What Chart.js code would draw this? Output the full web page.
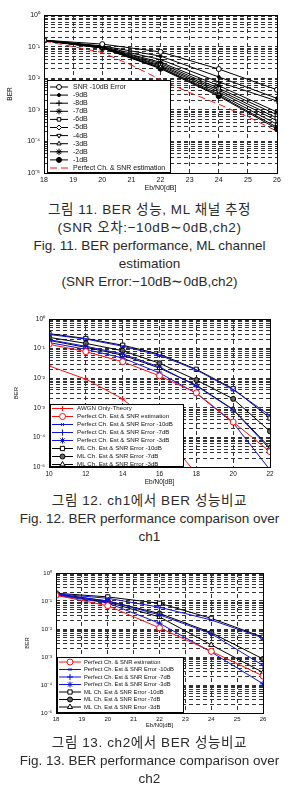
<!DOCTYPE html>
<html>
<head>
<meta charset="utf-8">
<script src="https://cdn.jsdelivr.net/npm/chart.js@4.4.0/dist/chart.umd.min.js"></script>
<style>
  body { margin: 0; background: #fff; width: 299px; height: 809px; position: relative; overflow: hidden; }
  .plot { position: absolute; left: 0; width: 299px; }
  .cap { position: absolute; left: 0; width: 299px; text-align: center; color: #2a2a2a;
         font-family: "Liberation Sans", "Noto Sans CJK KR", sans-serif; font-size: 13.5px; line-height: 18px; }
  .ko { letter-spacing: 0.6px; }
</style>
</head>
<body>
<div class="plot" style="top:0;height:195px"><canvas id="fig11"></canvas></div>
<div class="cap" style="top:201px">
  <span class="ko">그림 11. BER 성능, ML 채널 추정</span><br><span class="ko">(SNR 오차:−10dB∼0dB,ch2)</span><br>Fig. 11. BER performance, ML channel<br>estimation<br>(SNR Error:−10dB∼0dB,ch2)
</div>
<div class="plot" style="top:300px;height:190px"><canvas id="fig12"></canvas></div>
<div class="cap" style="top:492px">
  <span class="ko">그림 12. ch1에서 BER 성능비교</span><br>Fig. 12. BER performance comparison over<br>ch1
</div>
<div class="plot" style="top:560px;height:175px"><canvas id="fig13"></canvas></div>
<div class="cap" style="top:734px">
  <span class="ko">그림 13. ch2에서 BER 성능비교</span><br>Fig. 13. BER performance comparison over<br>ch2
</div>
<script>
  const FONT = '"Liberation Sans", Arial, sans-serif';
  const RED = '#ff1010', BLUE = '#1010e0', BLACK = '#000';

  // ---- Fig. 11 data: BER vs Eb/N0, SNR error -10dB .. -1dB (ch2)
  const ebn0Fig11 = [18, 20, 22, 24, 26];
  const ebn0Fig11Fine = [18, 19, 20, 21, 22, 23, 24, 25, 26];
  const snrErrNames = ['SNR -10dB Error', '-9dB', '-8dB', '-7dB', '-6dB', '-5dB', '-4dB', '-3dB', '-2dB', '-1dB'];
  const berErr10 = [0.16, 0.12, 0.068, 0.0195, 0.0043];
  const berErr9 = [0.16, 0.105, 0.05, 0.011, 0.0023];
  const berErr8 = [0.16, 0.1, 0.039, 0.0076, 0.0019];
  const berErr7 = [0.155, 0.097, 0.032, 0.0058, 0.00085];
  const berErr6 = [0.155, 0.095, 0.029, 0.0048, 0.0007];
  const berErr5 = [0.155, 0.093, 0.026, 0.0042, 0.00055];
  const berErr4 = [0.155, 0.092, 0.024, 0.0037, 0.00045];
  const berErr3 = [0.155, 0.091, 0.022, 0.0032, 0.00035];
  const berErr2 = [0.155, 0.09, 0.021, 0.0029, 0.00028];
  const berErr1 = [0.155, 0.09, 0.02, 0.0027, 0.00025];
  const berPerfect11 = [0.15, 0.1, 0.065, 0.026, 0.009, 0.0035, 0.0015, 0.0006, 0.00021];

  // ---- Fig. 12 data: ch1
  const ebn0Fig12 = [10, 12, 14, 16, 18, 20, 22];
  const ebn0Awgn = [10, 12, 14, 16, 18];
  const berAwgn12 = [0.026, 0.0093, 0.002, 0.00018, 0.000006];
  const berPerfect12 = [0.14, 0.079, 0.036, 0.012, 0.0032, 0.00033, 0.000033];
  const berPerf10dB12 = [0.30, 0.21, 0.12, 0.06, 0.019, 0.0041, 0.00055];
  const berPerf7dB12 = [0.2, 0.12, 0.066, 0.024, 0.0055, 0.00085, 0.00004];
  const berPerf3dB12 = [0.16, 0.095, 0.048, 0.015, 0.0031, 0.00031, 0.000008];
  const berMl10dB12 = [0.32, 0.22, 0.13, 0.065, 0.02, 0.0044, 0.00045];
  const berMl7dB12 = [0.24, 0.15, 0.085, 0.032, 0.0087, 0.002, 0.00016];
  const berMl3dB12 = [0.19, 0.11, 0.06, 0.022, 0.0058, 0.00088, 0.000045];

  // ---- Fig. 13 data: ch2
  const ebn0Fig13 = [18, 20, 22, 24, 26];
  const berPerfect13 = [0.16, 0.068, 0.011, 0.0016, 0.00021];
  const berPerf10dB13 = [0.18, 0.125, 0.06, 0.021, 0.0048];
  const berPerf7dB13 = [0.17, 0.1, 0.032, 0.0068, 0.0005];
  const berPerf3dB13 = [0.16, 0.085, 0.016, 0.0015, 0.00011];
  const berMl10dB13 = [0.19, 0.14, 0.083, 0.024, 0.0051];
  const berMl7dB13 = [0.18, 0.1, 0.036, 0.0074, 0.00085];
  const berMl3dB13 = [0.17, 0.09, 0.027, 0.0027, 0.00028];

  // build a line dataset from x/y arrays
  function series(label, xs, ys, color, style, extra) {
    return Object.assign({
      label: label,
      data: xs.map((x, i) => ({ x: x, y: ys[i] })),
      borderColor: color,
      backgroundColor: '#fff',
      pointBorderColor: color,
      pointBackgroundColor: '#fff',
      pointStyle: style,
      pointRadius: 2.5,
      pointBorderWidth: 1,
      borderWidth: 1,
      tension: 0
    }, extra || {});
  }

  function powLabel(p) {
    const sup = { '-': '⁻', '0': '⁰', '1': '¹', '2': '²', '3': '³', '4': '⁴', '5': '⁵' };
    return '10' + String(p).split('').map(c => sup[c]).join('');
  }

  // black box around the plot area
  const frame = {
    id: 'frame',
    afterDatasetsDraw(chart) {
      const a = chart.chartArea, ctx = chart.ctx;
      ctx.save();
      ctx.strokeStyle = '#000';
      ctx.lineWidth = 1;
      ctx.strokeRect(Math.round(a.left) + 0.5, Math.round(a.top) + 0.5,
                     Math.round(a.right - a.left), Math.round(a.bottom - a.top));
      ctx.restore();
    }
  };

  // MATLAB-like boxed legend inside the axes
  const boxLegend = {
    id: 'boxLegend',
    afterDraw(chart, args, o) {
      const ctx = chart.ctx, a = chart.chartArea;
      const x0 = a.left + o.left, y0 = o.top;
      const h = a.bottom - y0;
      ctx.save();
      ctx.fillStyle = '#fff';
      ctx.fillRect(x0, y0, o.width, h);
      ctx.strokeStyle = '#000';
      ctx.lineWidth = 1;
      ctx.strokeRect(Math.round(x0) + 0.5, Math.round(y0) + 0.5, Math.round(o.width), Math.round(h) - 1);
      chart.data.datasets.forEach((ds, i) => {
        const y = y0 + o.first + o.rowH * i;
        ctx.strokeStyle = ds.borderColor;
        ctx.lineWidth = ds.borderWidth;
        ctx.setLineDash(ds.borderDash || []);
        ctx.beginPath();
        ctx.moveTo(x0 + o.lineFrom, y);
        ctx.lineTo(x0 + o.lineTo, y);
        ctx.stroke();
        ctx.setLineDash([]);
        if (ds.pointRadius > 0 && Chart.helpers && Chart.helpers.drawPoint) {
          ctx.fillStyle = ds.pointBackgroundColor;
          ctx.strokeStyle = ds.pointBorderColor;
          ctx.lineWidth = ds.pointBorderWidth;
          Chart.helpers.drawPoint(ctx, {
            pointStyle: ds.pointStyle, radius: ds.pointRadius,
            rotation: ds.pointRotation || 0, borderWidth: ds.pointBorderWidth
          }, x0 + (o.lineFrom + o.lineTo) / 2, y);
        }
        ctx.fillStyle = '#111';
        ctx.font = o.fontSize + 'px ' + FONT;
        ctx.textBaseline = 'middle';
        ctx.textAlign = 'left';
        ctx.fillText(ds.label, x0 + o.textX, y);
      });
      ctx.restore();
    }
  };

  function makePlot(id, opt) {
    return new Chart(document.getElementById(id), {
      type: 'line',
      data: { datasets: opt.datasets },
      options: {
        responsive: true,
        maintainAspectRatio: false,
        animation: false,
        layout: { padding: { left: 0, right: opt.padRight, top: opt.padTop, bottom: 0 } },
        scales: {
          x: {
            type: 'linear', min: opt.xMin, max: opt.xMax,
            ticks: { stepSize: opt.xStep, padding: 3, color: '#111', font: { family: FONT, size: opt.tickSize } },
            grid: { color: '#333', lineWidth: 1, drawTicks: false },
            border: { display: false, dash: [4, 3] },
            title: { display: true, text: 'Eb/N0[dB]', color: '#111',
                     font: { family: FONT, size: opt.tickSize }, padding: { top: 0, bottom: opt.xTitlePad } },
            afterFit: s => { s.height = opt.xAxisH; }
          },
          y: {
            type: 'logarithmic', min: 1e-5, max: 1,
            afterBuildTicks: s => {
              const t = [];
              for (let p = -5; p <= 0; p++) {
                for (let m = 1; m <= 9; m++) {
                  const v = m * Math.pow(10, p);
                  if (v <= 1.0000001) t.push({ value: v });
                }
              }
              s.ticks = t;
            },
            ticks: {
              autoSkip: false, padding: 4, color: '#111',
              font: { family: FONT, size: opt.tickSize },
              callback: v => {
                const p = Math.log10(v);
                return Math.abs(p - Math.round(p)) < 1e-6 ? powLabel(Math.round(p)) : '';
              }
            },
            grid: { color: '#333', lineWidth: 1, drawTicks: false },
            border: { display: false, dash: [4, 3] },
            title: { display: true, text: 'BER', color: '#111',
                     font: { family: FONT, size: opt.tickSize - 0.5 }, padding: { top: opt.yTitlePad, bottom: 0 } },
            afterFit: s => { s.width = opt.yAxisW; }
          }
        },
        plugins: {
          legend: { display: false },
          tooltip: { enabled: false },
          boxLegend: opt.legend
        }
      },
      plugins: [frame, boxLegend]
    });
  }

  // Fig. 11
  const errSets = [berErr10, berErr9, berErr8, berErr7, berErr6, berErr5, berErr4, berErr3, berErr2, berErr1];
  const errStyles = [
    ['circle', {}], ['circle', { pointRadius: 1.5, pointBackgroundColor: BLACK }], ['cross', { pointRadius: 3 }],
    ['star', { pointRadius: 3 }], ['rect', {}], ['rectRot', {}], ['triangle', { pointRotation: 180 }],
    ['triangle', {}], ['star', { pointRadius: 3.2 }], ['circle', { pointBackgroundColor: BLACK }]
  ];
  const fig11Sets = errSets.map((ys, i) =>
    series(snrErrNames[i], ebn0Fig11, ys, BLACK, errStyles[i][0], errStyles[i][1]));
  fig11Sets.push(series('Perfect Ch. & SNR estimation', ebn0Fig11Fine, berPerfect11, RED, 'line',
    { pointRadius: 0, borderDash: [7, 4] }));

  makePlot('fig11', {
    datasets: fig11Sets, xMin: 18, xMax: 26, xStep: 1, tickSize: 7,
    padRight: 22, padTop: 15, xAxisH: 22, yAxisW: 44, xTitlePad: 3, yTitlePad: 6,
    legend: { left: 3, top: 80, width: 123, first: 7, rowH: 8.1, lineFrom: 3, lineTo: 21, textX: 26, fontSize: 7 }
  });

  // Fig. 12
  makePlot('fig12', {
    datasets: [
      series('AWGN Only-Theory', ebn0Awgn, berAwgn12, RED, 'cross', { pointRadius: 2.5 }),
      series('Perfect Ch. Est & SNR estimation', ebn0Fig12, berPerfect12, RED, 'circle', { pointRadius: 3 }),
      series('Perfect Ch. Est & SNR Error -10dB', ebn0Fig12, berPerf10dB12, BLUE, 'crossRot', { pointRadius: 2 }),
      series('Perfect Ch. Est & SNR Error -7dB', ebn0Fig12, berPerf7dB12, BLUE, 'cross', { pointRadius: 3 }),
      series('Perfect Ch. Est & SNR Error -3dB', ebn0Fig12, berPerf3dB12, BLUE, 'star', { pointRadius: 3 }),
      series('ML Ch. Est & SNR Error -10dB', ebn0Fig12, berMl10dB12, BLACK, 'rect', { pointRadius: 3 }),
      series('ML Ch. Est & SNR Error -7dB', ebn0Fig12, berMl7dB12, BLACK, 'circle', { pointRadius: 2.5, pointBackgroundColor: '#666' }),
      series('ML Ch. Est & SNR Error -3dB', ebn0Fig12, berMl3dB12, BLACK, 'triangle', { pointRadius: 3 })
    ],
    xMin: 10, xMax: 22, xStep: 2, tickSize: 6.5,
    padRight: 29, padTop: 19, xAxisH: 23, yAxisW: 49, xTitlePad: 4, yTitlePad: 13,
    legend: { left: 1, top: 104, width: 133, first: 4.5, rowH: 8, lineFrom: 2, lineTo: 23, textX: 27, fontSize: 6.2 }
  });

  // Fig. 13
  makePlot('fig13', {
    datasets: [
      series('Perfect Ch. & SNR estimation', ebn0Fig13, berPerfect13, RED, 'circle', { pointRadius: 3 }),
      series('Perfect Ch. Est & SNR Error -10dB', ebn0Fig13, berPerf10dB13, BLUE, 'crossRot', { pointRadius: 2 }),
      series('Perfect Ch. Est & SNR Error -7dB', ebn0Fig13, berPerf7dB13, BLUE, 'cross', { pointRadius: 3 }),
      series('Perfect Ch. Est & SNR Error -3dB', ebn0Fig13, berPerf3dB13, BLUE, 'star', { pointRadius: 3 }),
      series('ML Ch. Est & SNR Error -10dB', ebn0Fig13, berMl10dB13, BLACK, 'rect', { pointRadius: 3 }),
      series('ML Ch. Est & SNR Error -7dB', ebn0Fig13, berMl7dB13, BLACK, 'circle', { pointRadius: 2.5, pointBackgroundColor: '#666' }),
      series('ML Ch. Est & SNR Error -3dB', ebn0Fig13, berMl3dB13, BLACK, 'triangle', { pointRadius: 3 })
    ],
    xMin: 18, xMax: 26, xStep: 1, tickSize: 6,
    padRight: 36, padTop: 13, xAxisH: 22, yAxisW: 56, xTitlePad: 6, yTitlePad: 24,
    legend: { left: 1, top: 97, width: 126, first: 5, rowH: 7.5, lineFrom: 2, lineTo: 24, textX: 27, fontSize: 5.8 }
  });
</script>
</body>
</html>
